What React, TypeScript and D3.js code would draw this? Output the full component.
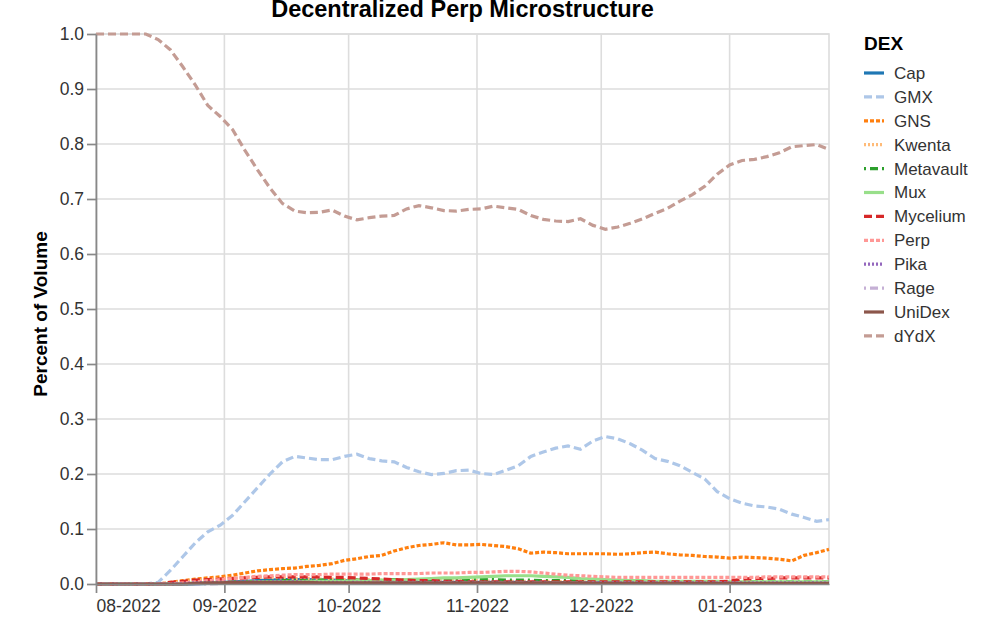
import * as d3 from 'd3';
import React, { useEffect, useRef } from 'react';

// sample dates (every 3 days)
const dates = [
    '2022-08-01', '2022-08-04', '2022-08-07', '2022-08-10', '2022-08-13', '2022-08-16',
    '2022-08-19', '2022-08-22', '2022-08-25', '2022-08-28', '2022-08-31', '2022-09-03',
    '2022-09-06', '2022-09-09', '2022-09-12', '2022-09-15', '2022-09-18', '2022-09-21',
    '2022-09-24', '2022-09-27', '2022-09-30', '2022-10-03', '2022-10-06', '2022-10-09',
    '2022-10-12', '2022-10-15', '2022-10-18', '2022-10-21', '2022-10-24', '2022-10-27',
    '2022-10-30', '2022-11-02', '2022-11-05', '2022-11-08', '2022-11-11', '2022-11-14',
    '2022-11-17', '2022-11-20', '2022-11-23', '2022-11-26', '2022-11-29', '2022-12-02',
    '2022-12-05', '2022-12-08', '2022-12-11', '2022-12-14', '2022-12-17', '2022-12-20',
    '2022-12-23', '2022-12-26', '2022-12-29', '2023-01-01', '2023-01-04', '2023-01-07',
    '2023-01-10', '2023-01-13', '2023-01-16', '2023-01-19', '2023-01-22', '2023-01-25',
];

const cap = [
    0, 0, 0, 0, 0, 0, 0, 0, 0, 0.001, 0.002, 0.004, 0.005, 0.006, 0.007, 0.008, 0.008, 0.008,
    0.007, 0.007, 0.006, 0.005, 0.004, 0.004, 0.003, 0.003, 0.003, 0.003, 0.003, 0.003, 0.003,
    0.003, 0.003, 0.003, 0.003, 0.002, 0.002, 0.002, 0.002, 0.002, 0.002, 0.002, 0.002, 0.002,
    0.002, 0.002, 0.002, 0.002, 0.002, 0.002, 0.002, 0.002, 0.002, 0.002, 0.002, 0.002, 0.002,
    0.002, 0.002, 0.002,
];
const gmx = [
    0, 0, 0, 0, 0, 0.003, 0.025, 0.05, 0.075, 0.095, 0.107, 0.125, 0.15, 0.175, 0.2, 0.222,
    0.232, 0.229, 0.226, 0.226, 0.232, 0.236, 0.228, 0.224, 0.222, 0.212, 0.204, 0.199, 0.201,
    0.206, 0.207, 0.201, 0.199, 0.207, 0.215, 0.232, 0.24, 0.247, 0.251, 0.245, 0.26, 0.268,
    0.264, 0.255, 0.243, 0.228, 0.223, 0.215, 0.203, 0.191, 0.168, 0.155, 0.147, 0.142, 0.14,
    0.136, 0.127, 0.121, 0.114, 0.117,
];
const gns = [
    0, 0, 0, 0, 0, 0, 0.003, 0.006, 0.009, 0.011, 0.013, 0.016, 0.02, 0.024, 0.026, 0.028,
    0.029, 0.032, 0.034, 0.037, 0.043, 0.046, 0.05, 0.052, 0.06, 0.066, 0.07, 0.072, 0.075,
    0.071, 0.071, 0.072, 0.07, 0.068, 0.064, 0.056, 0.058, 0.057, 0.055, 0.055, 0.055, 0.055,
    0.054, 0.055, 0.057, 0.058, 0.055, 0.053, 0.052, 0.05, 0.049, 0.047, 0.049, 0.048, 0.047,
    0.045, 0.042, 0.052, 0.057, 0.063,
];
const kwenta = [
    0, 0, 0, 0, 0, 0, 0.002, 0.004, 0.006, 0.008, 0.01, 0.011, 0.012, 0.012, 0.012, 0.011,
    0.01, 0.01, 0.009, 0.009, 0.008, 0.008, 0.008, 0.007, 0.007, 0.007, 0.007, 0.006, 0.006,
    0.006, 0.006, 0.006, 0.005, 0.005, 0.005, 0.005, 0.005, 0.005, 0.004, 0.004, 0.004, 0.004,
    0.004, 0.004, 0.004, 0.004, 0.004, 0.003, 0.003, 0.003, 0.003, 0.003, 0.003, 0.003, 0.003,
    0.003, 0.003, 0.003, 0.003, 0.003,
];
const metavault = [
    0, 0, 0, 0, 0, 0, 0, 0, 0.001, 0.002, 0.003, 0.004, 0.004, 0.005, 0.005, 0.006, 0.006,
    0.006, 0.007, 0.007, 0.007, 0.007, 0.007, 0.008, 0.008, 0.008, 0.008, 0.008, 0.008, 0.008,
    0.008, 0.008, 0.008, 0.007, 0.007, 0.007, 0.006, 0.006, 0.006, 0.005, 0.005, 0.005, 0.005,
    0.004, 0.004, 0.004, 0.004, 0.004, 0.004, 0.004, 0.004, 0.004, 0.004, 0.004, 0.004, 0.004,
    0.004, 0.004, 0.004, 0.004,
];
const mux = [
    0, 0, 0, 0, 0, 0, 0, 0.001, 0.002, 0.002, 0.003, 0.003, 0.003, 0.004, 0.004, 0.004, 0.004,
    0.005, 0.005, 0.005, 0.005, 0.006, 0.006, 0.007, 0.007, 0.008, 0.009, 0.01, 0.011, 0.011,
    0.012, 0.013, 0.014, 0.015, 0.015, 0.015, 0.014, 0.013, 0.012, 0.01, 0.009, 0.008, 0.007,
    0.006, 0.006, 0.005, 0.005, 0.005, 0.005, 0.005, 0.005, 0.004, 0.004, 0.004, 0.004, 0.004,
    0.004, 0.004, 0.004, 0.004,
];
const mycelium = [
    0, 0, 0, 0, 0, 0, 0.003, 0.005, 0.007, 0.008, 0.009, 0.01, 0.011, 0.012, 0.013, 0.013,
    0.013, 0.013, 0.013, 0.012, 0.012, 0.011, 0.01, 0.009, 0.008, 0.007, 0.006, 0.006, 0.005,
    0.005, 0.004, 0.004, 0.004, 0.004, 0.004, 0.004, 0.004, 0.004, 0.004, 0.004, 0.004, 0.004,
    0.004, 0.004, 0.004, 0.004, 0.004, 0.004, 0.004, 0.004, 0.004, 0.005, 0.009, 0.01, 0.01,
    0.011, 0.011, 0.011, 0.011, 0.011,
];
const perp = [
    0, 0, 0, 0, 0, 0, 0, 0.002, 0.004, 0.006, 0.008, 0.01, 0.012, 0.014, 0.015, 0.016, 0.017,
    0.017, 0.017, 0.018, 0.018, 0.018, 0.018, 0.019, 0.019, 0.019, 0.019, 0.02, 0.02, 0.02,
    0.021, 0.021, 0.022, 0.023, 0.023, 0.022, 0.02, 0.018, 0.016, 0.015, 0.014, 0.013, 0.012,
    0.012, 0.012, 0.012, 0.012, 0.012, 0.012, 0.012, 0.012, 0.012, 0.012, 0.012, 0.013, 0.013,
    0.013, 0.013, 0.013, 0.013,
];
const pika = [
    0, 0, 0, 0, 0, 0, 0, 0.001, 0.002, 0.003, 0.003, 0.004, 0.004, 0.004, 0.004, 0.004, 0.004,
    0.003, 0.003, 0.003, 0.003, 0.003, 0.003, 0.003, 0.003, 0.003, 0.003, 0.003, 0.003, 0.003,
    0.003, 0.003, 0.003, 0.003, 0.003, 0.003, 0.003, 0.002, 0.002, 0.002, 0.002, 0.002, 0.002,
    0.002, 0.002, 0.002, 0.002, 0.002, 0.002, 0.002, 0.002, 0.002, 0.002, 0.002, 0.002, 0.002,
    0.002, 0.002, 0.002, 0.002,
];
const rage = [
    0, 0, 0, 0, 0, 0, 0, 0, 0, 0, 0.001, 0.001, 0.001, 0.001, 0.001, 0.001, 0.001, 0.001,
    0.001, 0.001, 0.002, 0.002, 0.002, 0.002, 0.002, 0.002, 0.002, 0.002, 0.002, 0.002, 0.002,
    0.002, 0.002, 0.002, 0.002, 0.002, 0.002, 0.002, 0.002, 0.002, 0.001, 0.001, 0.001, 0.001,
    0.001, 0.001, 0.001, 0.001, 0.001, 0.001, 0.001, 0.001, 0.001, 0.001, 0.001, 0.001, 0.001,
    0.001, 0.001, 0.001,
];
const unidex = [
    0, 0, 0, 0, 0, 0, 0, 0, 0.001, 0.002, 0.002, 0.003, 0.003, 0.003, 0.003, 0.003, 0.003,
    0.003, 0.002, 0.002, 0.002, 0.002, 0.002, 0.002, 0.002, 0.002, 0.002, 0.002, 0.002, 0.002,
    0.002, 0.002, 0.002, 0.002, 0.002, 0.002, 0.002, 0.002, 0.002, 0.002, 0.001, 0.001, 0.001,
    0.001, 0.001, 0.001, 0.001, 0.001, 0.001, 0.001, 0.001, 0.001, 0.001, 0.001, 0.001, 0.001,
    0.001, 0.001, 0.001, 0.001,
];
const dydx = [
    1, 1, 1, 1, 1, 0.99, 0.971, 0.94, 0.907, 0.87, 0.85, 0.826, 0.788, 0.753, 0.72, 0.692,
    0.678, 0.675, 0.676, 0.68, 0.669, 0.662, 0.666, 0.669, 0.67, 0.682, 0.688, 0.684, 0.679,
    0.678, 0.681, 0.682, 0.687, 0.684, 0.681, 0.67, 0.663, 0.66, 0.659, 0.664, 0.652, 0.645,
    0.649, 0.656, 0.664, 0.674, 0.683, 0.696, 0.708, 0.723, 0.745, 0.762, 0.77, 0.772, 0.777,
    0.784, 0.795, 0.797, 0.799, 0.79,
];

const dexNames = ['Cap', 'GMX', 'GNS', 'Kwenta', 'Metavault', 'Mux', 'Mycelium', 'Perp', 'Pika', 'Rage', 'UniDex', 'dYdX'];
const dexShares = [cap, gmx, gns, kwenta, metavault, mux, mycelium, perp, pika, rage, unidex, dydx];

// category20, first 12
const dexColors = [
    '#1f77b4', '#aec7e8', '#ff7f0e', '#ffbb78', '#2ca02c', '#98df8a',
    '#d62728', '#ff9896', '#9467bd', '#c5b0d5', '#8c564b', '#c49c94',
];
const dashCycle = ['none', '8,4', '4,2', '2,2', '2,4,8,4'];

const W = 996;
const H = 626;
const left = 96;
const right = 829;
const top = 34;
const bottom = 584;
const FONT = "'Liberation Sans', Arial, sans-serif";

const App = () => {
    const svgRef = useRef<SVGSVGElement | null>(null);

    useEffect(() => {
        const parse = d3.timeParse('%Y-%m-%d');
        const when = dates.map((d) => parse(d) as Date);

        const x = d3
            .scaleTime()
            .domain(d3.extent(when) as [Date, Date])
            .range([left, right]);
        const y = d3.scaleLinear().domain([0, 1]).range([bottom, top]);

        const svg = d3.select(svgRef.current);
        svg.selectAll('*').remove();
        svg.attr('font-family', FONT);

        const months = x.ticks(d3.timeMonth.every(1));
        const yTicks = y.ticks(10);

        // grid
        const grid = svg.append('g').attr('stroke', '#ddd').attr('stroke-width', 1.6);
        grid.selectAll('.gx')
            .data(months)
            .join('line')
            .attr('x1', (d) => x(d))
            .attr('x2', (d) => x(d))
            .attr('y1', top)
            .attr('y2', bottom);
        grid.selectAll('.gy')
            .data(yTicks)
            .join('line')
            .attr('x1', left)
            .attr('x2', right)
            .attr('y1', (d) => y(d))
            .attr('y2', (d) => y(d));
        svg.append('rect')
            .attr('x', left)
            .attr('y', top)
            .attr('width', right - left)
            .attr('height', bottom - top)
            .attr('fill', 'none')
            .attr('stroke', '#ddd')
            .attr('stroke-width', 1.6);

        // lines
        const line = d3
            .line<number>()
            .defined((v) => v !== undefined)
            .x((_, i) => x(when[i]))
            .y((v) => y(v));

        svg.append('g')
            .attr('fill', 'none')
            .selectAll('path')
            .data(dexShares)
            .join('path')
            .attr('d', (s) => line(s))
            .attr('stroke', (_, i) => dexColors[i])
            .attr('stroke-width', 3.2)
            .attr('stroke-dasharray', (_, i) => dashCycle[i % dashCycle.length]);

        // axes
        svg.append('g')
            .attr('transform', `translate(0,${bottom})`)
            .call(
                d3
                    .axisBottom(x)
                    .tickValues(months)
                    .tickFormat(d3.timeFormat('%m-%Y') as any)
                    .tickSize(9)
                    .tickSizeOuter(0)
                    .tickPadding(7),
            )
            .call((g) => {
                g.attr('font-family', FONT).attr('font-size', 17.5);
                g.select('.domain').attr('stroke', '#888').attr('stroke-width', 1.7);
                g.selectAll('.tick line').attr('stroke', '#888').attr('stroke-width', 1.7);
                g.selectAll('.tick text').attr('fill', '#333');
                g.select('.tick text').attr('text-anchor', 'start');
            });

        svg.append('g')
            .attr('transform', `translate(${left},0)`)
            .call(
                d3
                    .axisLeft(y)
                    .ticks(10)
                    .tickFormat(d3.format('.1f'))
                    .tickSize(9)
                    .tickSizeOuter(0)
                    .tickPadding(3),
            )
            .call((g) => {
                g.attr('font-family', FONT).attr('font-size', 17.5);
                g.select('.domain').attr('stroke', '#888').attr('stroke-width', 1.7);
                g.selectAll('.tick line').attr('stroke', '#888').attr('stroke-width', 1.7);
                g.selectAll('.tick text').attr('fill', '#333');
            });

        // titles
        svg.append('text')
            .attr('x', (left + right) / 2)
            .attr('y', 17)
            .attr('text-anchor', 'middle')
            .attr('font-weight', 'bold')
            .attr('font-size', 23.5)
            .attr('fill', '#000')
            .text('Decentralized Perp Microstructure');

        svg.append('text')
            .attr('transform', `translate(47,${(top + bottom) / 2 + 5}) rotate(-90)`)
            .attr('text-anchor', 'middle')
            .attr('font-weight', 'bold')
            .attr('font-size', 19)
            .attr('fill', '#000')
            .text('Percent of Volume');

        // legend
        const legend = svg.append('g');
        legend
            .append('text')
            .attr('x', 864)
            .attr('y', 50)
            .attr('font-weight', 'bold')
            .attr('font-size', 19)
            .attr('fill', '#000')
            .text('DEX');

        const item = legend
            .selectAll('.item')
            .data(dexNames)
            .join('g')
            .attr('transform', (_, i) => `translate(864,${73 + i * 23.9})`);
        item.append('line')
            .attr('x1', 0)
            .attr('x2', 20)
            .attr('stroke', (_, i) => dexColors[i])
            .attr('stroke-width', 3.2)
            .attr('stroke-dasharray', (_, i) => dashCycle[i % dashCycle.length]);
        item.append('text')
            .attr('x', 30)
            .attr('dy', '0.35em')
            .attr('font-size', 17)
            .attr('fill', '#333')
            .text((d) => d);
    });

    return (
        <svg
            ref={svgRef}
            width={W}
            height={H}
            style={{ position: 'absolute', left: 0, top: 0, background: '#fff' }}
        />
    );
};

export default App;
